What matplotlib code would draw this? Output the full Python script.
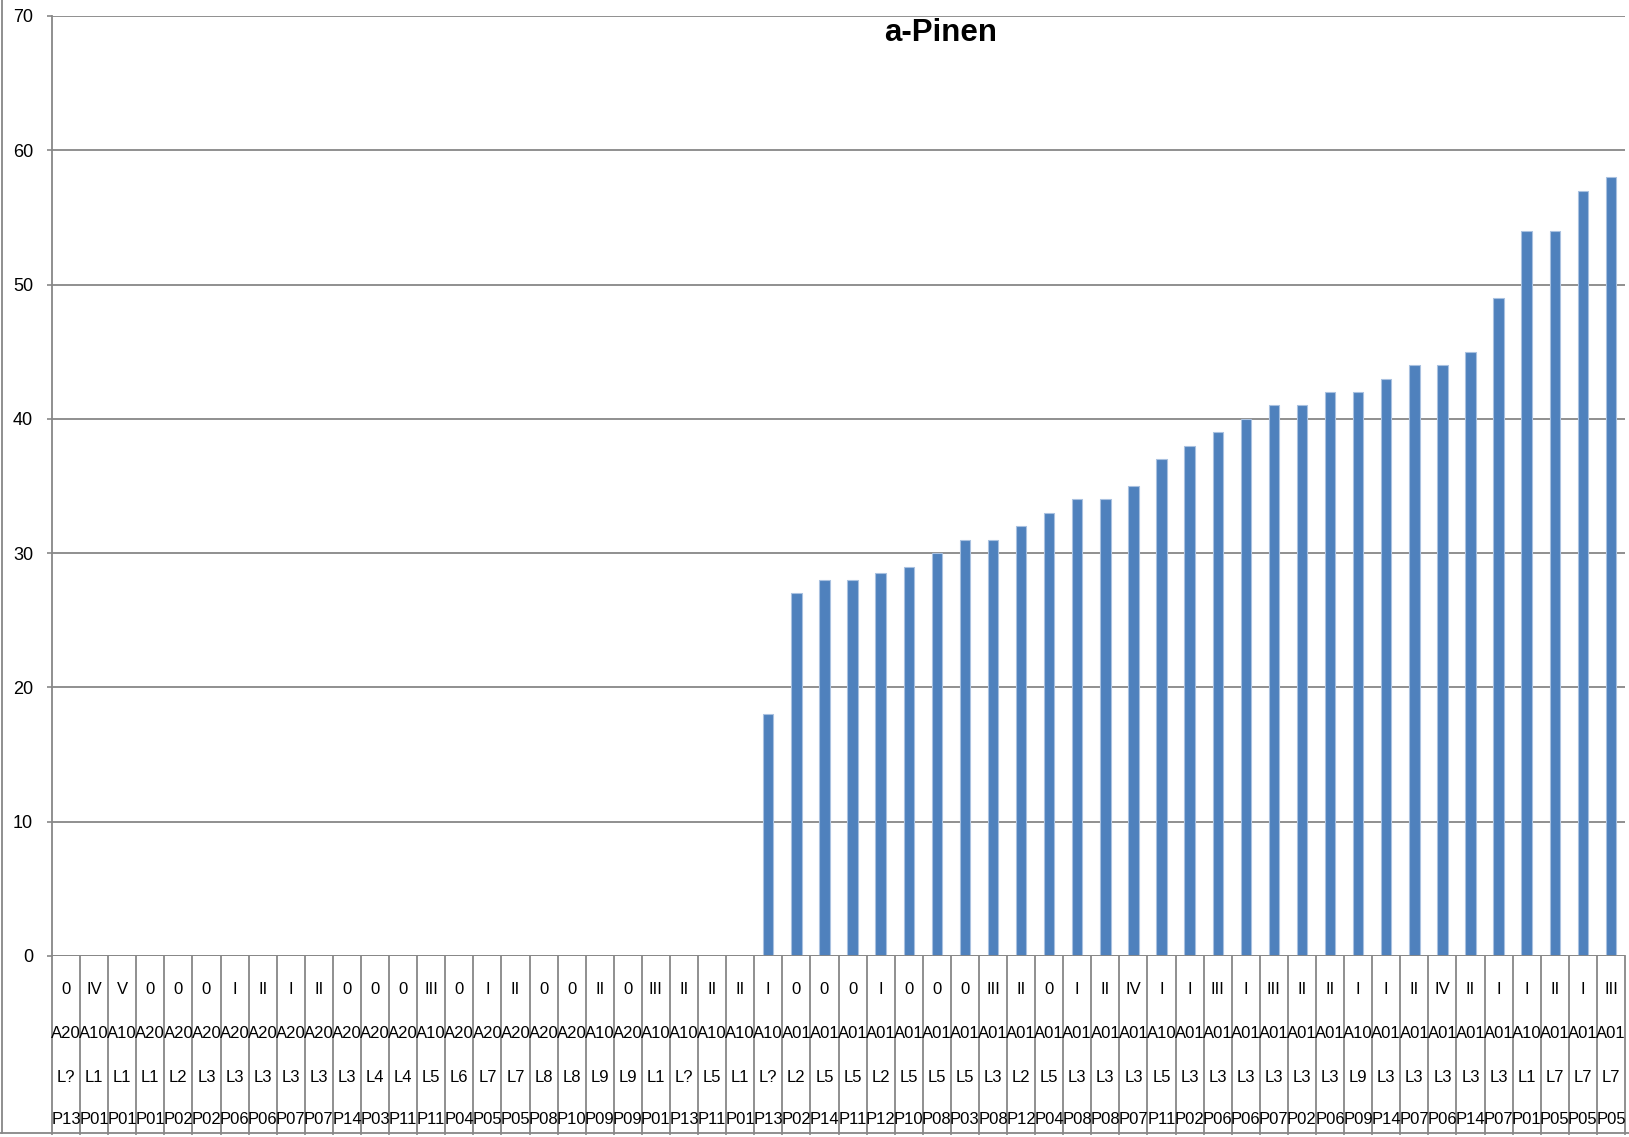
import matplotlib
matplotlib.use("Agg")
import matplotlib.pyplot as plt
from matplotlib.lines import Line2D

# ---------------- data ----------------
stage = ["0", "IV", "V", "0", "0", "0", "I", "II", "I", "II", "0", "0", "0", "III",
         "0", "I", "II", "0", "0", "II", "0", "III", "II", "II", "II", "I", "0", "0",
         "0", "I", "0", "0", "0", "III", "II", "0", "I", "II", "IV", "I", "I", "III",
         "I", "III", "II", "II", "I", "I", "II", "IV", "II", "I", "I", "II", "I", "III"]
site = ["A20", "A10", "A10", "A20", "A20", "A20", "A20", "A20", "A20", "A20", "A20",
        "A20", "A20", "A10", "A20", "A20", "A20", "A20", "A20", "A10", "A20", "A10",
        "A10", "A10", "A10", "A10", "A01", "A01", "A01", "A01", "A01", "A01", "A01",
        "A01", "A01", "A01", "A01", "A01", "A01", "A10", "A01", "A01", "A01", "A01",
        "A01", "A01", "A10", "A01", "A01", "A01", "A01", "A01", "A10", "A01", "A01", "A01"]
layer = ["L?", "L1", "L1", "L1", "L2", "L3", "L3", "L3", "L3", "L3", "L3", "L4", "L4",
         "L5", "L6", "L7", "L7", "L8", "L8", "L9", "L9", "L1", "L?", "L5", "L1", "L?",
         "L2", "L5", "L5", "L2", "L5", "L5", "L5", "L3", "L2", "L5", "L3", "L3", "L3",
         "L5", "L3", "L3", "L3", "L3", "L3", "L3", "L9", "L3", "L3", "L3", "L3", "L3",
         "L1", "L7", "L7", "L7"]
plot_id = ["P13", "P01", "P01", "P01", "P02", "P02", "P06", "P06", "P07", "P07", "P14",
           "P03", "P11", "P11", "P04", "P05", "P05", "P08", "P10", "P09", "P09", "P01",
           "P13", "P11", "P01", "P13", "P02", "P14", "P11", "P12", "P10", "P08", "P03",
           "P08", "P12", "P04", "P08", "P08", "P07", "P11", "P02", "P06", "P06", "P07",
           "P02", "P06", "P09", "P14", "P07", "P06", "P14", "P07", "P01", "P05", "P05", "P05"]
values = [0, 0, 0, 0, 0, 0, 0, 0, 0, 0, 0, 0, 0, 0, 0, 0, 0, 0, 0, 0, 0, 0, 0, 0, 0,
          18, 27, 28, 28, 28.5, 29, 30, 31, 31, 32, 33, 34, 34, 35, 37, 38, 39, 40,
          41, 41, 42, 42, 43, 44, 44, 45, 49, 54, 54, 57, 58]
y_ticks = [0, 10, 20, 30, 40, 50, 60, 70]
title = "a-Pinen"

# ---------------- figure ----------------
W, H = 1629, 1137
plt.rcParams["font.family"] = ["Liberation Sans", "DejaVu Sans"]

fig = plt.figure(figsize=(W / 100, H / 100), dpi=100)
left, right, top, bottom = 52, 1625, 16, 956
ax = fig.add_axes([left / W, 1 - bottom / H, (right - left) / W, (bottom - top) / H])

n = len(values)
xs = list(range(n))
ax.bar(xs, values, width=0.37, color="#4F81BD", edgecolor="#A9C1E0",
       linewidth=0.8, zorder=3)

ax.set_xlim(-0.5, n - 0.5)
ax.set_ylim(0, 70)
ax.set_yticks(y_ticks)
ax.set_yticklabels([str(t) for t in y_ticks], fontsize=13, color="black")
ax.tick_params(axis="y", length=3.6, width=1.2, color="#878787", pad=10)
ax.set_xticks([])
ax.yaxis.grid(True, color="#878787", linewidth=1.3, zorder=0)
ax.set_axisbelow(True)
for s in ["top", "right", "bottom"]:
    ax.spines[s].set_visible(False)
ax.spines["left"].set_color("#878787")
ax.spines["left"].set_linewidth(1.3)
ax.axhline(0, color="#878787", linewidth=1.3, zorder=4)

# category label table below the axis
xt = ax.get_xaxis_transform()
ah = bottom - top
rows_px = [990, 1033, 1078, 1120]
for row, py in zip([stage, site, layer, plot_id], rows_px):
    yf = (bottom - py) / ah
    for i, lab in enumerate(row):
        ax.text(i, yf, lab, transform=xt, ha="center", va="center",
                fontsize=12, color="black", clip_on=False)
table_bottom = (bottom - 1134) / ah
for b in range(n + 1):
    ax.plot([b - 0.5, b - 0.5], [0, table_bottom], transform=xt, color="#878787",
            linewidth=1.3, clip_on=False, zorder=2)

# title
fig.text(941 / W, 1 - 33 / H, title, ha="center", va="center",
         fontsize=22.5, fontweight="bold", color="black")

# chart-area border (left and bottom visible)
fig.add_artist(Line2D([2 / W, 2 / W], [1 - 1133 / H, 1], transform=fig.transFigure,
                      color="#878787", linewidth=1.3))
fig.add_artist(Line2D([0, 1], [1 - 1133 / H, 1 - 1133 / H], transform=fig.transFigure,
                      color="#878787", linewidth=1.3))

fig.savefig("out.png", dpi=100, facecolor="white")
